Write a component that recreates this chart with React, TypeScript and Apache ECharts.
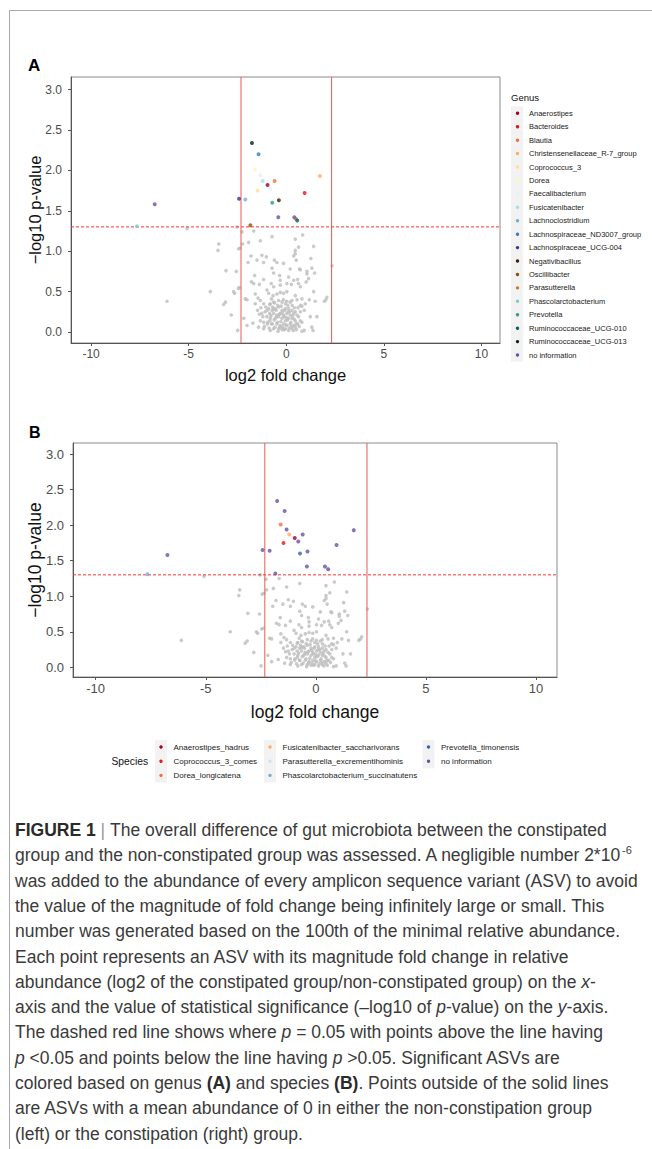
import React, { useEffect, useRef } from "react";
import * as echarts from "echarts";

const FONT = "'Liberation Sans', Arial, Helvetica, sans-serif";

// ---------- axis ranges, ticks and thresholds ----------
const xRange = [-11.03, 10.95];
const yRange = [-0.136, 3.156];
const xTicks = [-10, -5, 0, 5, 10];
const yTicks = [0, 0.5, 1, 1.5, 2, 2.5, 3];
const foldLimit = 2.32; // solid red lines (+/-)
const pLine = 1.301; // -log10(0.05)

// ---------- legend categories ----------
const genusNames = [
  "Anaerostipes",
  "Bacteroides",
  "Blautia",
  "Christensenellaceae_R-7_group",
  "Coprococcus_3",
  "Dorea",
  "Faecalibacterium",
  "Fusicatenibacter",
  "Lachnoclostridium",
  "Lachnospiraceae_ND3007_group",
  "Lachnospiraceae_UCG-004",
  "Negativibacillus",
  "Oscillibacter",
  "Parasutterella",
  "Phascolarctobacterium",
  "Prevotella",
  "Ruminococcaceae_UCG-010",
  "Ruminococcaceae_UCG-013",
  "no information",
];
const genusColors = [
  "#a50026", "#d7191c", "#f46d43", "#fdae61", "#fee090", "#fff7b0",
  "#e0f3f8", "#abd9e9", "#74add1", "#4575b4", "#313695", "#3d2208",
  "#8c510a", "#bf812d", "#80cdc1", "#35978f", "#01665e", "#00251d",
  "#6a51a3",
];
const speciesNames = [
  "Anaerostipes_hadrus",
  "Coprococcus_3_comes",
  "Dorea_longicatena",
  "Fusicatenibacter_saccharivorans",
  "Parasutterella_excrementihominis",
  "Phascolarctobacterium_succinatutens",
  "Prevotella_timonensis",
  "no information",
];
const speciesColors = [
  "#a50026", "#e31a1c", "#f46d43", "#fdae61", "#c6e6f2", "#74add1", "#3565b0", "#6a51a3",
];

// ---------- significant ASVs ----------
const sigX = [-1.76, -1.42, -1.6, -1.33, -1.21, -0.6, -0.96, -0.8, -1.47, 1.72, 0.94, -2.42, -2.1, -0.72, -0.38, -0.41, 0.41, 0.5, 0.56, -1.84, -6.74, -7.65];
const sigY = [2.34, 2.2, 2.01, 1.94, 1.87, 1.87, 1.82, 1.77, 1.75, 1.93, 1.72, 1.65, 1.64, 1.6, 1.63, 1.42, 1.42, 1.4, 1.38, 1.32, 1.58, 1.31];
const sigGenus = [
  "Ruminococcaceae_UCG-013", "Lachnospiraceae_ND3007_group", "Dorea", "Faecalibacterium",
  "Fusicatenibacter", "Blautia", "Anaerostipes", "Faecalibacterium", "Coprococcus_3",
  "Christensenellaceae_R-7_group", "Bacteroides", "Lachnospiraceae_UCG-004", "Lachnoclostridium",
  "Prevotella", "Negativibacillus", "no information", "no information", "Parasutterella",
  "Ruminococcaceae_UCG-010", "Oscillibacter", "no information", "Phascolarctobacterium",
];
const sigSpecies = [
  "no information", "no information", "Dorea_longicatena", "no information",
  "Fusicatenibacter_saccharivorans", "no information", "Anaerostipes_hadrus", "no information",
  "Coprococcus_3_comes", "no information", "no information", "no information", "no information",
  "Prevotella_timonensis", "no information", "no information", "no information",
  "Parasutterella_excrementihominis", "no information", "no information", "no information",
  "Phascolarctobacterium_succinatutens",
];

// ---------- non-significant ASVs (grey) ----------
const greyPoints: [number, number][] = [
  [-2.27, 1.24], [-1.67, 1.25], [-0.73, 1.18], [0.46, 1.15], [0.84, 1.2], [-5.08, 1.28], [-2.53, 1.3],
  [-3.46, 1.09], [-3.5, 1.01], [-2.44, 1.03], [-2.35, 1.04], [-2.24, 1.09], [-1.93, 1.11], [-1.33, 1.13],
  [0.46, 1.01], [0.63, 1.05], [1.4, 1.06], [-1.81, 0.94], [-1.25, 0.95], [-1.02, 0.93], [-1.5, 0.89],
  [-1.96, 0.86], [-0.61, 0.89], [-0.48, 0.86], [-0.14, 0.85], [-1.16, 0.86], [0.38, 0.94], [0.51, 0.89],
  [1.26, 0.91], [0.46, 0.97], [2.34, 0.82], [-0.73, 0.79], [-0.65, 0.73], [0.2, 0.78], [0.68, 0.78],
  [1.31, 0.79], [1.45, 0.73], [0.72, 0.77], [1.06, 0.75], [-3.09, 0.76], [-2.56, 0.75], [-1.62, 0.7],
  [-0.34, 0.7], [-0.31, 0.64], [0.12, 0.68], [0.38, 0.64], [0.58, 0.65], [0.63, 0.6], [1.06, 0.72],
  [1.14, 0.66], [1.02, 0.62], [-1.79, 0.62], [-1.67, 0.6], [-1.38, 0.59], [-1.16, 0.65], [-0.77, 0.6],
  [-0.99, 0.52], [-0.65, 0.56], [-0.31, 0.58], [0.03, 0.6], [0.26, 0.59], [0.72, 0.56], [1.4, 0.5],
  [-3.89, 0.5], [-2.7, 0.5], [-2.65, 0.48], [-2.39, 0.55], [-2.46, 0.54], [-6.11, 0.38], [-2.1, 0.41],
  [-2.01, 0.4], [-1.59, 0.47], [-1.45, 0.42], [-0.9, 0.48], [-0.68, 0.45], [-0.48, 0.47], [-0.31, 0.49],
  [-0.14, 0.48], [0.03, 0.5], [0.46, 0.45], [0.29, 0.39], [0.55, 0.4], [0.8, 0.41], [1.18, 0.4],
  [1.48, 0.38], [2.08, 0.43], [1.95, 0.38], [2.03, 0.4], [-3.12, 0.37], [-3.21, 0.34], [-1.33, 0.39],
  [-1.59, 0.35], [-1.16, 0.35], [-0.82, 0.35], [-0.65, 0.37], [-0.39, 0.39], [-0.22, 0.37], [-0.05, 0.35],
  [0.2, 0.37], [0.72, 0.33], [0.97, 0.35], [0.8, 0.32], [-0.9, 0.29], [-0.73, 0.27], [-0.56, 0.29],
  [-0.39, 0.31], [-0.22, 0.27], [-0.05, 0.29], [0.12, 0.29], [0.29, 0.27], [0.46, 0.25], [-1.08, 0.25],
  [-1.25, 0.23], [-0.85, 0.23], [-0.65, 0.23], [-0.48, 0.21], [-0.31, 0.23], [-0.14, 0.21], [0.03, 0.23],
  [0.2, 0.21], [0.38, 0.23], [0.55, 0.21], [-0.99, 0.19], [-0.82, 0.17], [-0.56, 0.17], [-0.39, 0.19],
  [-0.22, 0.17], [-0.05, 0.14], [0.12, 0.17], [0.29, 0.17], [0.46, 0.14], [0.63, 0.19], [-1.33, 0.14],
  [-1.16, 0.12], [-0.96, 0.1], [-0.73, 0.1], [-0.48, 0.1], [-0.31, 0.08], [-0.14, 0.1], [0.03, 0.08],
  [0.2, 0.1], [0.38, 0.08], [0.58, 0.1], [-0.65, 0.04], [-0.39, 0.04], [-0.22, 0.03], [-0.05, 0.04],
  [0.12, 0.02], [0.29, 0.04], [-0.82, 0.02], [0.46, 0.06], [0.8, 0.12], [0.92, 0.02], [0.8, 0.01],
  [0.72, 0.14], [1.31, 0.06], [1.37, 0.02], [1.23, 0.19], [1.57, 0.19], [-2.82, 0.21], [-2.18, 0.17],
  [-2.01, 0.08], [-1.71, 0.11], [-1.42, 0.06], [-1.16, 0.04], [-2.49, 0.02], [-1.47, 0.27], [-1.3, 0.3],
  [-0.85, 0.34], [0.72, 0.25], [0.92, 0.27], [-1.05, 0.31], [-0.95, 0.12], [-0.88, 0.05], [-0.78, 0.2],
  [-0.7, 0.31], [-0.62, 0.15], [-0.58, 0.06], [-0.52, 0.27], [-0.45, 0.12], [-0.42, 0.01], [-0.35, 0.22],
  [-0.28, 0.13], [-0.26, 0.32], [-0.18, 0.06], [-0.12, 0.19], [-0.08, 0.27], [-0.02, 0.09], [0.06, 0.15],
  [0.08, 0.33], [0.15, 0.05], [0.18, 0.25], [0.24, 0.12], [0.33, 0.2], [0.36, 0.02], [0.42, 0.3],
  [0.5, 0.1], [0.52, 0.03], [-1.2, 0.19], [-1.12, 0.07], [-0.98, 0.27], [-0.74, 0.1], [-0.66, 0.28],
  [-0.5, 0.19], [-0.33, 0.06], [-0.2, 0.24], [-0.1, 0.03], [0.0, 0.18], [0.1, 0.25], [0.27, 0.07],
  [0.4, 0.16], [-0.84, 0.14], [-0.6, 0.36], [-0.44, 0.33], [0.02, 0.38], [0.3, 0.33], [-0.15, 0.4],
  [-0.76, 0.41], [0.6, 0.3], [0.66, 0.07], [-1.38, 0.22],
];

// ---------- caption ----------
type Seg = [string, string];
const captionLines: Seg[][] = [
  [["b", "FIGURE 1"], ["g", " | "], ["n", "The overall difference of gut microbiota between the constipated"]],
  [["n", "group and the non-constipated group was assessed. A negligible number 2*10"], ["s", "-6"]],
  [["n", "was added to the abundance of every amplicon sequence variant (ASV) to avoid"]],
  [["n", "the value of the magnitude of fold change being infinitely large or small. This"]],
  [["n", "number was generated based on the 100th of the minimal relative abundance."]],
  [["n", "Each point represents an ASV with its magnitude fold change in relative"]],
  [["n", "abundance (log2 of the constipated group/non-constipated group) on the "], ["i", "x"], ["n", "-"]],
  [["n", "axis and the value of statistical significance (\u2013log10 of "], ["i", "p"], ["n", "-value) on the "], ["i", "y"], ["n", "-axis."]],
  [["n", "The dashed red line shows where "], ["i", "p"], ["n", " = 0.05 with points above the line having"]],
  [["i", "p"], ["n", " <0.05 and points below the line having "], ["i", "p"], ["n", " >0.05. Significant ASVs are"]],
  [["n", "colored based on genus "], ["b", "(A)"], ["n", " and species "], ["b", "(B)"], ["n", ". Points outside of the solid lines"]],
  [["n", "are ASVs with a mean abundance of 0 in either the non-constipation group"]],
  [["n", "(left) or the constipation (right) group."]],
];

type Panel = {
  grid: { left: number; top: number; width: number; height: number };
  tickFont: number;
  titleFont: number;
  xLabelMargin: number;
  yLabelMargin: number;
  xTitleGap: number;
};

const panels: Panel[] = [
  { grid: { left: 71, top: 77, width: 429, height: 266 }, tickFont: 12, titleFont: 16.5, xLabelMargin: 5, yLabelMargin: 9, xTitleGap: 32 },
  { grid: { left: 73, top: 443, width: 484, height: 234 }, tickFont: 13, titleFont: 17.5, xLabelMargin: 5, yLabelMargin: 9, xTitleGap: 35 },
];

function buildOption() {
  const grids = panels.map((p) => ({
    ...p.grid,
    show: true,
    borderColor: "#8a8a8a",
    borderWidth: 1,
    backgroundColor: "transparent",
    containLabel: false,
    outerBoundsMode: "none",
  }));

  const xAxes = panels.map((p, gi) => ({
    type: "value",
    gridIndex: gi,
    min: xRange[0],
    max: xRange[1],
    splitLine: { show: false },
    axisLine: { show: true, onZero: false, lineStyle: { color: "#555", width: 1 } },
    axisTick: { show: true, length: 3, customValues: xTicks, lineStyle: { color: "#555" } },
    axisLabel: {
      customValues: xTicks,
      fontSize: p.tickFont,
      color: "#4d4d4d",
      fontFamily: FONT,
      margin: p.xLabelMargin,
      formatter: (v: number) => String(v),
    },
  }));

  const yAxes = panels.map((p, gi) => ({
    type: "value",
    gridIndex: gi,
    min: yRange[0],
    max: yRange[1],
    splitLine: { show: false },
    axisLine: { show: true, onZero: false, lineStyle: { color: "#555", width: 1 } },
    axisTick: { show: true, length: 3, customValues: yTicks, lineStyle: { color: "#555" } },
    axisLabel: {
      customValues: yTicks,
      fontSize: p.tickFont,
      color: "#4d4d4d",
      fontFamily: FONT,
      margin: p.yLabelMargin,
      formatter: (v: number) => v.toFixed(1),
    },
  }));

  const series: any[] = [];
  const groupings = [
    { names: genusNames, colors: genusColors, labels: sigGenus },
    { names: speciesNames, colors: speciesColors, labels: sigSpecies },
  ];
  const refLine = (gi: number, data: [number, number][], color: string, type: any, width: number) => ({
    type: "line",
    xAxisIndex: gi,
    yAxisIndex: gi,
    data,
    showSymbol: false,
    symbol: "none",
    silent: true,
    z: 3,
    itemStyle: { color },
    lineStyle: { color, type, width },
  });
  groupings.forEach((g, gi) => {
    series.push({
      type: "scatter",
      xAxisIndex: gi,
      yAxisIndex: gi,
      data: greyPoints,
      symbolSize: 3.6,
      itemStyle: { color: "#bdbdbd" },
      silent: true,
      z: 2,
    });
    series.push(refLine(gi, [[-foldLimit, yRange[0]], [-foldLimit, yRange[1]]], "#ee6666", "solid", 1.1));
    series.push(refLine(gi, [[foldLimit, yRange[0]], [foldLimit, yRange[1]]], "#ee6666", "solid", 1.1));
    series.push(refLine(gi, [[xRange[0], pLine], [xRange[1], pLine]], "#ff3030", [3, 2], 1));
    g.names.forEach((n, i) => {
      const data: [number, number][] = [];
      g.labels.forEach((lab, j) => {
        if (lab === n) data.push([sigX[j], sigY[j]]);
      });
      series.push({
        type: "scatter",
        name: n,
        xAxisIndex: gi,
        yAxisIndex: gi,
        data,
        symbolSize: 4,
        itemStyle: { color: g.colors[i] },
        silent: true,
        z: 4,
      });
    });
  });

  const elements: any[] = [];
  // frame lines
  elements.push({ type: "line", shape: { x1: 9.5, y1: 10.5, x2: 652, y2: 10.5 }, style: { stroke: "#a8a8a8", lineWidth: 1 } });
  elements.push({ type: "line", shape: { x1: 9.5, y1: 10.5, x2: 9.5, y2: 1149 }, style: { stroke: "#a8a8a8", lineWidth: 1 } });

  // panel letters
  elements.push({ type: "text", x: 28, y: 65, style: { text: "A", fontSize: 17, fontWeight: "bold", fontFamily: FONT, fill: "#000", verticalAlign: "middle" } });
  elements.push({ type: "text", x: 29, y: 432, style: { text: "B", fontSize: 16, fontWeight: "bold", fontFamily: FONT, fill: "#000", verticalAlign: "middle" } });

  // axis titles
  panels.forEach((p) => {
    const cx = p.grid.left + p.grid.width / 2;
    const cy = p.grid.top + p.grid.height / 2;
    const xTitleY = p.grid.top + p.grid.height + p.xTitleGap;
    elements.push({ type: "text", x: cx, y: xTitleY, style: { text: "log2 fold change", fontSize: p.titleFont, fontFamily: FONT, fill: "#111", align: "center", verticalAlign: "middle" } });
    elements.push({ type: "text", x: 35, y: cy, rotation: Math.PI / 2, style: { text: "\u2212log10 p-value", fontSize: p.titleFont, fontFamily: FONT, fill: "#111", align: "center", verticalAlign: "middle" } });
  });

  // Genus legend (panel A)
  const gl = { x: 511, titleY: 97, firstY: 113.3, step: 13.43 };
  elements.push({ type: "text", x: gl.x, y: gl.titleY, style: { text: "Genus", fontSize: 9.5, fontFamily: FONT, fill: "#111", verticalAlign: "middle" } });
  elements.push({ type: "rect", shape: { x: gl.x, y: gl.firstY - gl.step / 2, width: 12, height: gl.step * genusNames.length }, style: { fill: "#f2f2f2" } });
  genusNames.forEach((n, i) => {
    const y = gl.firstY + i * gl.step;
    elements.push({ type: "circle", shape: { cx: gl.x + 6.5, cy: y, r: 1.7 }, style: { fill: genusColors[i] } });
    elements.push({ type: "text", x: gl.x + 18, y, style: { text: n, fontSize: 7.5, fontFamily: FONT, fill: "#1a1a1a", verticalAlign: "middle" } });
  });

  // Species legend (panel B)
  const colDotX = [161, 270, 428.5];
  const rowY = [747, 761.2, 775.4];
  elements.push({ type: "text", x: 111.5, y: 761.5, style: { text: "Species", fontSize: 10.3, fontFamily: FONT, fill: "#111", verticalAlign: "middle" } });
  colDotX.forEach((cx, c) => {
    const count = Math.min(3, speciesNames.length - c * 3);
    elements.push({ type: "rect", shape: { x: cx - 6, y: rowY[0] - 7, width: 12, height: 14.2 * count }, style: { fill: "#f2f2f2" } });
  });
  speciesNames.forEach((n, i) => {
    const c = Math.floor(i / 3);
    const r = i % 3;
    elements.push({ type: "circle", shape: { cx: colDotX[c], cy: rowY[r], r: 1.7 }, style: { fill: speciesColors[i] } });
    elements.push({ type: "text", x: colDotX[c] + 12.5, y: rowY[r], style: { text: n, fontSize: 8, fontFamily: FONT, fill: "#1a1a1a", verticalAlign: "middle" } });
  });

  // caption
  const capFont = 17.5;
  const capTop = 830;
  const capGap = 25.3;
  const rich = {
    n: { fontSize: capFont, fontFamily: FONT, fill: "#3a3a3a", lineHeight: 22 },
    g: { fontSize: capFont, fontFamily: FONT, fill: "#9a9a9a", lineHeight: 22 },
    b: { fontSize: capFont, fontFamily: FONT, fontWeight: "bold", fill: "#2a2a2a", lineHeight: 22 },
    i: { fontSize: capFont, fontFamily: FONT, fontStyle: "italic", fill: "#3a3a3a", lineHeight: 22 },
    s: { fontSize: 11, fontFamily: FONT, fill: "#3a3a3a", verticalAlign: "top", lineHeight: 22 },
  };
  captionLines.forEach((segs, li) => {
    const text = segs.map(([st, t]) => `{${st}|${t}}`).join("");
    elements.push({
      type: "text",
      x: 15,
      y: capTop + li * capGap,
      style: { text, rich, verticalAlign: "middle", fontSize: capFont, fontFamily: FONT },
    });
  });

  return {
    animation: false,
    backgroundColor: "#ffffff",
    grid: grids,
    xAxis: xAxes,
    yAxis: yAxes,
    series,
    graphic: { elements },
  };
}

export default function App() {
  const ref = useRef<HTMLDivElement>(null);
  useEffect(() => {
    if (!ref.current) return;
    const chart = echarts.init(ref.current, undefined, { renderer: "svg" });
    chart.setOption(buildOption() as any);
    return () => chart.dispose();
  }, []);
  return (
    <div
      ref={ref}
      style={{ position: "absolute", left: 0, top: 0, width: 652, height: 1149, background: "#fff" }}
    />
  );
}
